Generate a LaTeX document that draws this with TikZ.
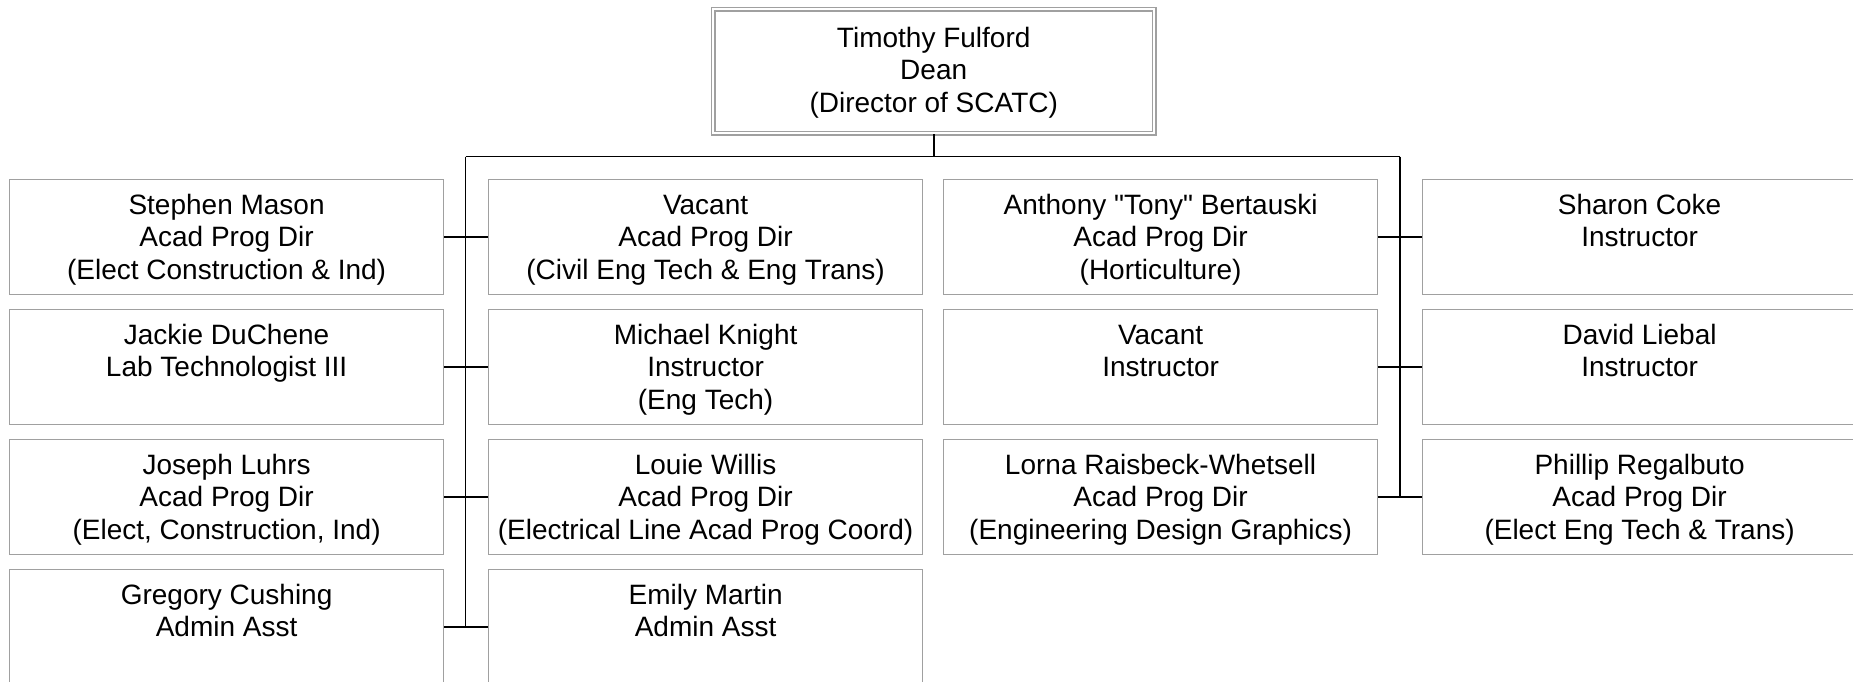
\documentclass[tikz,border=0pt]{standalone}
\usepackage{fontspec}
\setmainfont{Liberation Sans}[Ligatures=TeXOff]
\usetikzlibrary{calc}
\definecolor{boxgray}{RGB}{160,160,160}
\begin{document}
\begin{tikzpicture}[x=0.5pt,y=-0.5pt,
  box/.style={draw=boxgray, line width=0.6pt, rectangle, minimum width=217pt, minimum height=57.5pt, inner sep=0pt, anchor=north west},
  topbox/.style={draw=boxgray, line width=0.7pt, double=white, double distance=1.2pt, rectangle, minimum width=220.5pt, minimum height=62pt, inner sep=0pt, anchor=north west},
  txt/.style={font=\fontsize{14pt}{16.25pt}\selectfont, align=center, anchor=north, inner sep=0pt},
  conn/.style={draw=black, line width=0.95pt}]
\useasboundingbox (0,0) rectangle (1853,681);
\clip (0,0) rectangle (1853,681);

% top box
\node[topbox] (top) at (712.5,8.5) {};
\node[txt] (topt) at ($(top.north)+(0,15.5)$) {\strut Timothy Fulford\\Dean\\(Director of SCATC)};

% column 1
\node[box] (a1) at (9,179) {};
\node[box] (a2) at (9,309) {};
\node[box] (a3) at (9,439) {};
\node[box] (a4) at (9,569) {};
% column 2
\node[box] (b1) at (488,179) {};
\node[box] (b2) at (488,309) {};
\node[box] (b3) at (488,439) {};
\node[box] (b4) at (488,569) {};
% column 3
\node[box] (c1) at (943,179) {};
\node[box] (c2) at (943,309) {};
\node[box] (c3) at (943,439) {};
% column 4
\node[box] (d1) at (1422,179) {};
\node[box] (d2) at (1422,309) {};
\node[box] (d3) at (1422,439) {};

% texts
\node[txt] (a1t) at ($(a1.north)+(0,12)$) {\strut Stephen Mason\\Acad Prog Dir\\(Elect Construction \& Ind)};
\node[txt] (a2t) at ($(a2.north)+(0,12)$) {\strut Jackie DuChene\\Lab Technologist III};
\node[txt] (a3t) at ($(a3.north)+(0,12)$) {\strut Joseph Luhrs\\Acad Prog Dir\\(Elect, Construction, Ind)};
\node[txt] (a4t) at ($(a4.north)+(0,12)$) {\strut Gregory Cushing\\Admin Asst};

\node[txt] (b1t) at ($(b1.north)+(0,12)$) {\strut Vacant\\Acad Prog Dir\\(Civil Eng Tech \& Eng Trans)};
\node[txt] (b2t) at ($(b2.north)+(0,12)$) {\strut Michael Knight\\Instructor\\(Eng Tech)};
\node[txt] (b3t) at ($(b3.north)+(0,12)$) {\strut Louie Willis\\Acad Prog Dir\\(Electrical Line Acad Prog Coord)};
\node[txt] (b4t) at ($(b4.north)+(0,12)$) {\strut Emily Martin\\Admin Asst};

\node[txt] (c1t) at ($(c1.north)+(0,12)$) {\strut Anthony "Tony" Bertauski\\Acad Prog Dir\\(Horticulture)};
\node[txt] (c2t) at ($(c2.north)+(0,12)$) {\strut Vacant\\Instructor};
\node[txt] (c3t) at ($(c3.north)+(0,12)$) {\strut Lorna Raisbeck-Whetsell\\Acad Prog Dir\\(Engineering Design Graphics)};

\node[txt] (d1t) at ($(d1.north)+(0,12)$) {\strut Sharon Coke\\Instructor};
\node[txt] (d2t) at ($(d2.north)+(0,12)$) {\strut David Liebal\\Instructor};
\node[txt] (d3t) at ($(d3.north)+(0,12)$) {\strut Phillip Regalbuto\\Acad Prog Dir\\(Elect Eng Tech \& Trans)};

% connectors
\coordinate (busL) at (465.5,156.5);
\coordinate (busR) at (1400,156.5);
\draw[conn] (top.south) -- (top.south |- busL);
\draw[conn] (busL) -- (busR);
\draw[conn] (busL) -- (busL |- a4.east);
\draw[conn] (busR) -- (busR |- c3.east);
\draw[conn] (a1.east) -- (b1.west);
\draw[conn] (a2.east) -- (b2.west);
\draw[conn] (a3.east) -- (b3.west);
\draw[conn] (a4.east) -- (b4.west);
\draw[conn] (c1.east) -- (d1.west);
\draw[conn] (c2.east) -- (d2.west);
\draw[conn] (c3.east) -- (d3.west);
\end{tikzpicture}
\end{document}
